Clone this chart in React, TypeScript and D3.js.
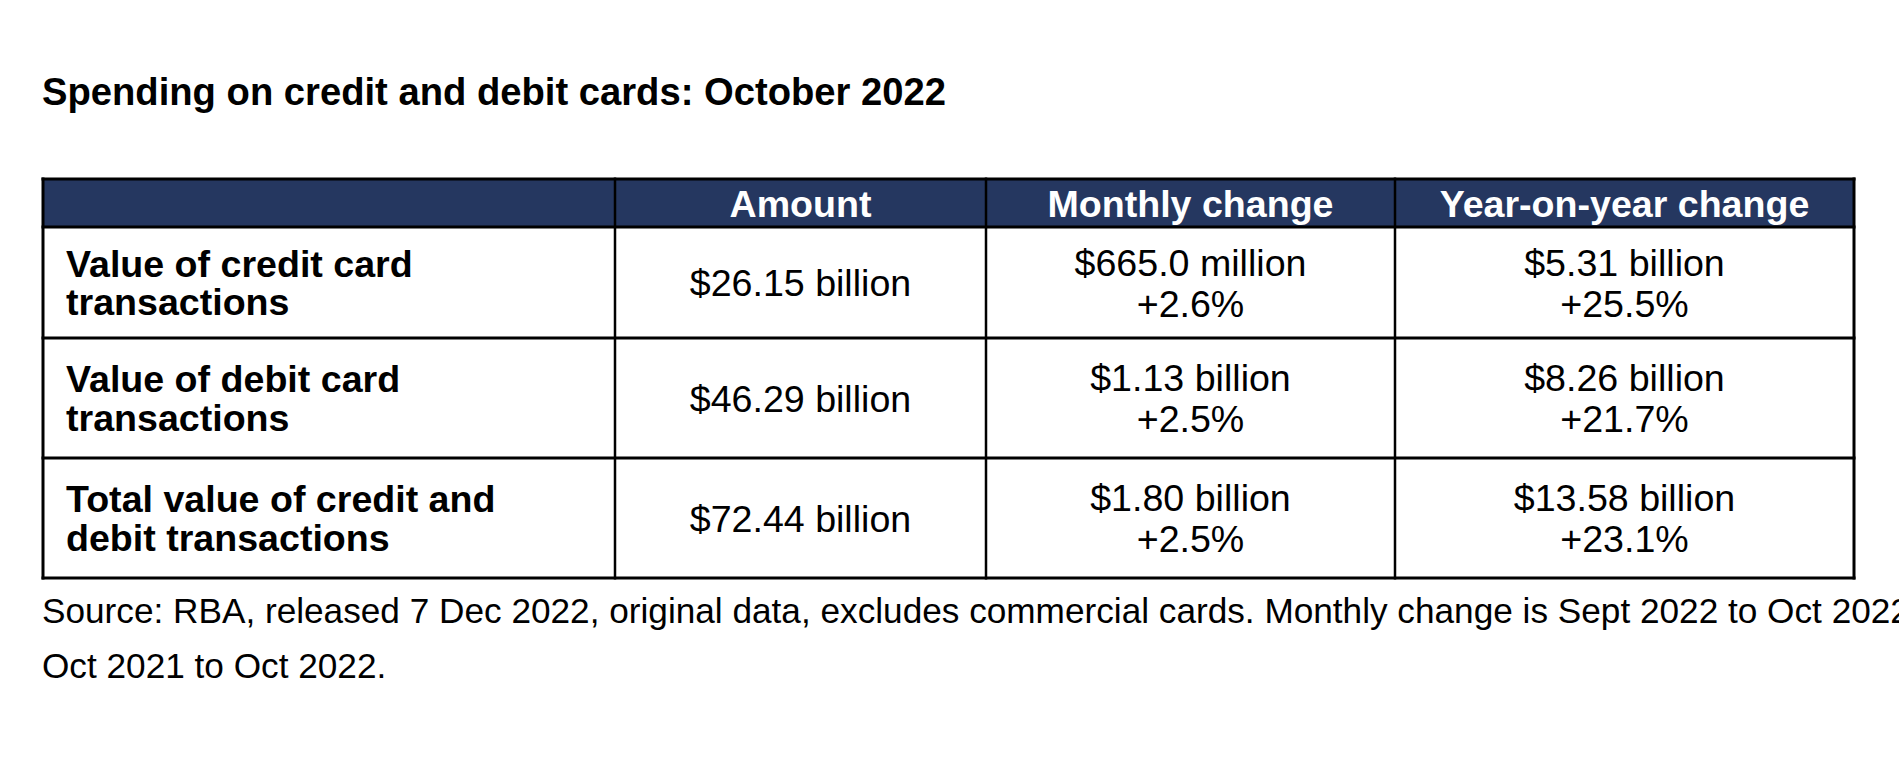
import React from "react";
import * as d3 from "d3";

const title = "Spending on credit and debit cards: October 2022";
const columnHeaders = ["", "Amount", "Monthly change", "Year-on-year change"];
const rowLabels = [
  ["Value of credit card", "transactions"],
  ["Value of debit card", "transactions"],
  ["Total value of credit and", "debit transactions"],
];
const amounts = ["$26.15 billion", "$46.29 billion", "$72.44 billion"];
const monthlyValues = ["$665.0 million", "$1.13 billion", "$1.80 billion"];
const monthlyPct = ["+2.6%", "+2.5%", "+2.5%"];
const yoyValues = ["$5.31 billion", "$8.26 billion", "$13.58 billion"];
const yoyPct = ["+25.5%", "+21.7%", "+23.1%"];
const sourceLines = [
  "Source: RBA, released 7 Dec 2022, original data, excludes commercial cards. Monthly change is Sept 2022 to Oct 2022.",
  "Oct 2021 to Oct 2022.",
];

const W = 1899;
const H = 776;
const FONT = "'Liberation Sans', Arial, Helvetica, sans-serif";
const NAVY = "#253760";

// layout edges
const colEdges = [43, 615, 986, 1395, 1854];
const rowEdges = [179, 227, 338, 458, 578];

export default function App() {
  const colIdx = d3.range(columnHeaders.length);
  const xLeft = d3.scaleOrdinal<number, number>().domain(colIdx).range(colEdges.slice(0, 4));
  const xRight = d3.scaleOrdinal<number, number>().domain(colIdx).range(colEdges.slice(1));
  const xMid = (i: number) => (xLeft(i) + xRight(i)) / 2;
  const rowIdx = d3.range(rowEdges.length - 1);
  const yTop = d3.scaleOrdinal<number, number>().domain(rowIdx).range(rowEdges.slice(0, -1));
  const yBot = d3.scaleOrdinal<number, number>().domain(rowIdx).range(rowEdges.slice(1));
  const yMid = (r: number) => (yTop(r) + yBot(r)) / 2;

  const cap = 27;
  const fs = 37.6;
  const labelGap = 38.5;
  const valGap = 41;

  const twoLine = (r: number, gap: number) => {
    const c = yMid(r);
    const total = cap + gap;
    const b1 = c - total / 2 + cap;
    return [b1, b1 + gap];
  };

  return (
    <svg
      width={W}
      height={H}
      style={{ position: "absolute", left: 0, top: 0, display: "block", background: "#fff" }}
      fontFamily={FONT}
    >
      <rect x={0} y={0} width={W} height={H} fill="#fff" />
      <text x={42} y={105} fontSize={38.2} fontWeight="bold" fill="#000">
        {title}
      </text>

      {/* header background */}
      <rect x={colEdges[0]} y={rowEdges[0]} width={colEdges[4] - colEdges[0]} height={rowEdges[1] - rowEdges[0]} fill={NAVY} />

      {/* header text */}
      {columnHeaders.map((h, i) =>
        h ? (
          <text key={"h" + i} x={xMid(i)} y={yMid(0) + cap / 2} textAnchor="middle" fontSize={fs} fontWeight="bold" fill="#fff">
            {h}
          </text>
        ) : null
      )}

      {/* row labels */}
      {rowLabels.map((lines, r) => {
        const [b1, b2] = twoLine(r + 1, labelGap);
        return (
          <g key={"l" + r}>
            <text x={66} y={b1} fontSize={fs} fontWeight="bold" fill="#000">{lines[0]}</text>
            <text x={66} y={b2} fontSize={fs} fontWeight="bold" fill="#000">{lines[1]}</text>
          </g>
        );
      })}

      {/* amounts */}
      {amounts.map((a, r) => (
        <text key={"a" + r} x={xMid(1)} y={yMid(r + 1) + cap / 2} textAnchor="middle" fontSize={fs} fill="#000">
          {a}
        </text>
      ))}

      {/* monthly */}
      {monthlyValues.map((v, r) => {
        const [b1, b2] = twoLine(r + 1, valGap);
        return (
          <g key={"m" + r}>
            <text x={xMid(2)} y={b1} textAnchor="middle" fontSize={fs} fill="#000">{v}</text>
            <text x={xMid(2)} y={b2} textAnchor="middle" fontSize={fs} fill="#000">{monthlyPct[r]}</text>
          </g>
        );
      })}

      {/* yoy */}
      {yoyValues.map((v, r) => {
        const [b1, b2] = twoLine(r + 1, valGap);
        return (
          <g key={"y" + r}>
            <text x={xMid(3)} y={b1} textAnchor="middle" fontSize={fs} fill="#000">{v}</text>
            <text x={xMid(3)} y={b2} textAnchor="middle" fontSize={fs} fill="#000">{yoyPct[r]}</text>
          </g>
        );
      })}

      {/* grid lines */}
      {rowEdges.map((y, i) => (
        <line key={"hl" + i} x1={colEdges[0] - 1.5} x2={colEdges[4] + 1.5} y1={y} y2={y} stroke="#000" strokeWidth={3} />
      ))}
      {colEdges.map((x, i) => (
        <line key={"vl" + i} x1={x} x2={x} y1={rowEdges[0] - 1.5} y2={rowEdges[4] + 1.5} stroke="#000" strokeWidth={i === 0 || i === 4 ? 3 : 2.5} />
      ))}

      {/* source */}
      {sourceLines.map((s, i) => (
        <text key={"s" + i} x={42} y={623 + i * 55} fontSize={35.2} fill="#000">
          {s}
        </text>
      ))}
    </svg>
  );
}
